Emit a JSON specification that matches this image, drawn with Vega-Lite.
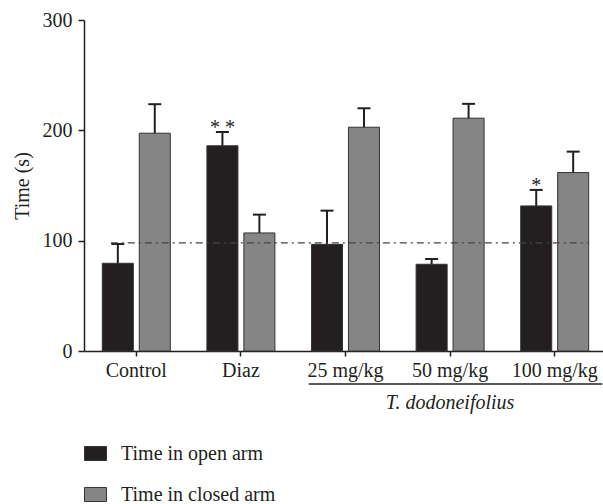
{
  "$schema": "https://vega.github.io/schema/vega-lite/v6.json",
  "width": 519,
  "height": 331,
  "autosize": {"type": "none"},
  "padding": {"left": 84, "top": 20, "right": 0, "bottom": 153},
  "background": "white",
  "config": {
    "font": "Liberation Serif",
    "view": {"stroke": null},
    "axis": {
      "labelFont": "Liberation Serif",
      "titleFont": "Liberation Serif",
      "labelColor": "#231f20",
      "titleColor": "#231f20",
      "domainColor": "#231f20",
      "tickColor": "#231f20",
      "domainWidth": 1.5,
      "tickWidth": 1.5,
      "grid": false
    }
  },
  "data": {
    "values": [
      {"group": "Control", "arm": "Time in open arm", "value": 79.5, "upper": 97, "sig": ""},
      {"group": "Control", "arm": "Time in closed arm", "value": 197.4, "upper": 223.7, "sig": ""},
      {"group": "Diaz", "arm": "Time in open arm", "value": 186, "upper": 198.5, "sig": "* *"},
      {"group": "Diaz", "arm": "Time in closed arm", "value": 107, "upper": 123.6, "sig": ""},
      {"group": "25 mg/kg", "arm": "Time in open arm", "value": 96.7, "upper": 127.2, "sig": ""},
      {"group": "25 mg/kg", "arm": "Time in closed arm", "value": 202.8, "upper": 220, "sig": ""},
      {"group": "50 mg/kg", "arm": "Time in open arm", "value": 78.6, "upper": 83.4, "sig": ""},
      {"group": "50 mg/kg", "arm": "Time in closed arm", "value": 211, "upper": 224, "sig": ""},
      {"group": "100 mg/kg", "arm": "Time in open arm", "value": 131.5, "upper": 146, "sig": "*"},
      {"group": "100 mg/kg", "arm": "Time in closed arm", "value": 161.7, "upper": 180.7, "sig": ""}
    ]
  },
  "layer": [
    {
      "mark": {"type": "bar", "stroke": "#333333", "strokeWidth": 1},
      "encoding": {
        "x": {
          "field": "group", "type": "nominal",
          "sort": ["Control", "Diaz", "25 mg/kg", "50 mg/kg", "100 mg/kg"],
          "scale": {"range": [0, 523], "paddingInner": 0.35, "paddingOuter": 0.175},
          "axis": {"title": null, "labelAngle": 0, "labelFontSize": 20, "tickSize": 5, "labelPadding": 4}
        },
        "xOffset": {
          "field": "arm", "type": "nominal",
          "sort": ["Time in open arm", "Time in closed arm"],
          "scale": {"paddingInner": 0.16, "paddingOuter": 0}
        },
        "y": {
          "field": "value", "type": "quantitative",
          "scale": {"domain": [0, 300], "nice": false},
          "axis": {"values": [0, 100, 200, 300], "title": "Time (s)", "titleFontSize": 20, "titleFontWeight": "normal", "labelFontSize": 20, "tickSize": 6, "labelPadding": 6, "titlePadding": 10}
        },
        "fill": {
          "field": "arm", "type": "nominal",
          "scale": {"domain": ["Time in open arm", "Time in closed arm"], "range": ["#231f20", "#858585"]},
          "legend": {
            "orient": "none", "legendX": 0, "legendY": 422, "title": null,
            "direction": "vertical",
            "symbolType": "M-1,-0.64H1V0.64H-1Z", "symbolSize": 484,
            "symbolStrokeColor": "#333333", "symbolStrokeWidth": 1,
            "labelFont": "Liberation Serif", "labelFontSize": 20, "labelColor": "#231f20",
            "rowPadding": 19, "labelOffset": 14, "padding": 0
          }
        }
      }
    },
    {
      "mark": {"type": "rule", "strokeWidth": 2, "color": "#231f20"},
      "encoding": {
        "x": {"field": "group", "type": "nominal", "sort": ["Control", "Diaz", "25 mg/kg", "50 mg/kg", "100 mg/kg"]},
        "xOffset": {"field": "arm", "type": "nominal", "sort": ["Time in open arm", "Time in closed arm"]},
        "y": {"field": "value", "type": "quantitative"},
        "y2": {"field": "upper"}
      }
    },
    {
      "mark": {"type": "tick", "thickness": 2, "size": 13, "color": "#231f20", "opacity": 1},
      "encoding": {
        "x": {"field": "group", "type": "nominal", "sort": ["Control", "Diaz", "25 mg/kg", "50 mg/kg", "100 mg/kg"]},
        "xOffset": {"field": "arm", "type": "nominal", "sort": ["Time in open arm", "Time in closed arm"]},
        "y": {"field": "upper", "type": "quantitative"}
      }
    },
    {
      "mark": {"type": "text", "baseline": "alphabetic", "dy": 2, "fontSize": 20, "color": "#231f20", "font": "Liberation Serif"},
      "encoding": {
        "x": {"field": "group", "type": "nominal", "sort": ["Control", "Diaz", "25 mg/kg", "50 mg/kg", "100 mg/kg"]},
        "xOffset": {"field": "arm", "type": "nominal", "sort": ["Time in open arm", "Time in closed arm"]},
        "y": {"field": "upper", "type": "quantitative"},
        "text": {"field": "sig"}
      }
    },
    {
      "data": {"values": [{}]},
      "mark": {"type": "rule", "strokeWidth": 1.3, "color": "#444444", "strokeDash": [7, 4, 2, 4]},
      "encoding": {
        "x": {"datum": "Control", "bandPosition": 0.125},
        "x2": {"datum": "100 mg/kg", "bandPosition": 1},
        "y": {"datum": 98}
      }
    },
    {
      "data": {"values": [{}]},
      "mark": {"type": "rule", "strokeWidth": 1.5, "color": "#231f20", "clip": false},
      "encoding": {
        "x": {"datum": "25 mg/kg", "bandPosition": -0.04},
        "x2": {"datum": "100 mg/kg", "bandPosition": 1.2},
        "y": {"datum": -30}
      }
    },
    {
      "data": {"values": [{"label": "T. dodoneifolius"}]},
      "mark": {"type": "text", "fontSize": 20, "fontStyle": "italic", "baseline": "middle", "color": "#231f20", "font": "Liberation Serif"},
      "encoding": {
        "x": {"datum": "50 mg/kg"},
        "y": {"datum": -47},
        "text": {"field": "label"}
      }
    }
  ]
}
